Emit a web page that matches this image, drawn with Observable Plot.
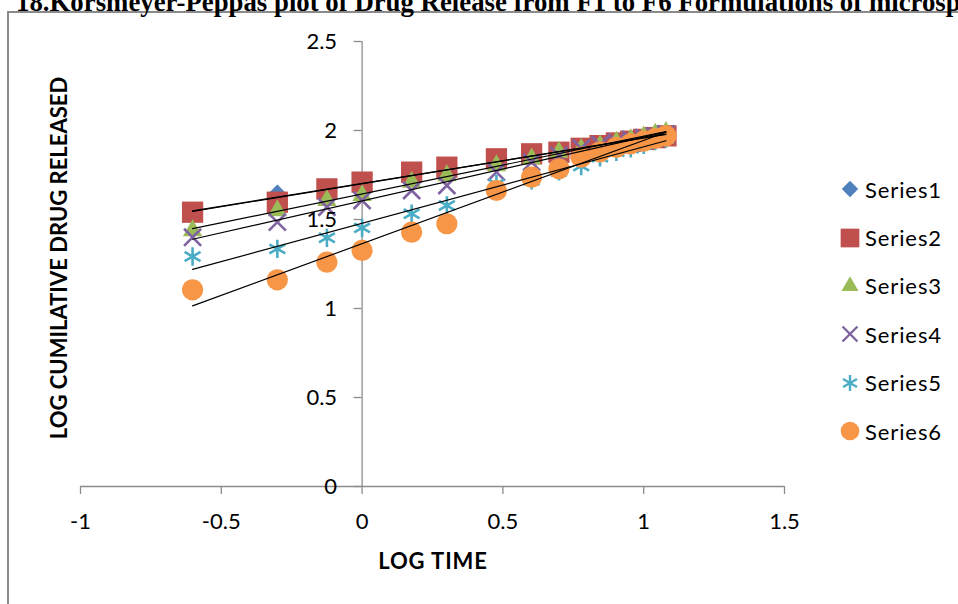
<!DOCTYPE html>
<html><head><meta charset="utf-8">
<script src="https://cdn.jsdelivr.net/npm/d3@7"></script>
<script src="https://cdn.jsdelivr.net/npm/@observablehq/plot@0.6"></script>
<style>
html,body{margin:0;padding:0;background:#fff;overflow:hidden;}
#wrap{position:relative;width:958px;height:604px;overflow:hidden;background:#fff;}
#frame{position:absolute;left:7px;top:11px;width:1000px;height:700px;border-left:2px solid #8a8a8a;border-top:2px solid #8a8a8a;}
#title{position:absolute;left:16px;top:-11px;font:bold 26.8px/1 "Liberation Serif";white-space:nowrap;color:#000;}
#chart{position:absolute;left:0;top:0;}
#xtitle{position:absolute;left:433px;top:560px;transform:translate(-50%,-50%);font:bold 22px Lato;letter-spacing:0.9px;white-space:nowrap;}
#ytitle{position:absolute;left:58px;top:258px;transform:translate(-50%,-50%) rotate(-90deg);font:bold 22px Lato;white-space:nowrap;}
#legend{position:absolute;left:838px;top:165px;font:22px Lato;letter-spacing:0.9px;color:#000;}
.row{height:48.4px;display:flex;align-items:center;}
.row svg{width:24px;height:24px;margin-right:3px;}
</style></head><body>
<div id="wrap">
<div id="frame"></div>
<div id="title">18.Korsmeyer-Peppas plot of Drug Release from F1 to F6 Formulations of microspheres</div>
<div id="chart"></div>
<div id="xtitle">LOG TIME</div>
<div id="ytitle">LOG CUMILATIVE DRUG RELEASED</div>
<div id="legend"></div>
</div>
<script>
const logTime = [-0.602, -0.301, -0.125, 0, 0.176, 0.301, 0.477, 0.602, 0.699, 0.778, 0.845, 0.903, 0.954, 1.0, 1.041, 1.079];
const series1 = [1.53, 1.644, 1.66, 1.70, 1.75, 1.78, 1.83, 1.86, 1.885, 1.905, 1.92, 1.935, 1.945, 1.955, 1.965, 1.975];
const series2 = [1.541, 1.597, 1.672, 1.71, 1.766, 1.794, 1.841, 1.869, 1.878, 1.90, 1.915, 1.93, 1.94, 1.95, 1.96, 1.97];
const series3 = [1.438, 1.55, 1.607, 1.635, 1.71, 1.747, 1.803, 1.841, 1.878, 1.895, 1.915, 1.935, 1.95, 1.965, 1.98, 1.99];
const series4 = [1.40, 1.485, 1.569, 1.607, 1.663, 1.691, 1.766, 1.822, 1.86, 1.90, 1.92, 1.935, 1.95, 1.96, 1.97, 1.98];
const series5 = [1.292, 1.335, 1.397, 1.453, 1.532, 1.579, 1.70, 1.72, 1.77, 1.80, 1.85, 1.88, 1.90, 1.92, 1.94, 1.955];
const series6 = [1.105, 1.161, 1.26, 1.326, 1.429, 1.476, 1.663, 1.738, 1.785, 1.85, 1.88, 1.905, 1.925, 1.94, 1.955, 1.97];
const seriesNames = ["Series1", "Series2", "Series3", "Series4", "Series5", "Series6"];
const seriesColors = ["#4F81BD", "#C0504D", "#9BBB59", "#8064A2", "#4BACC6", "#F79646"];
const seriesSymbols = ["diamond2", "square", "triangle", "times", "asterisk", "circle"];
const seriesRadius = [8.4, 12, 7.2, 7.8, 8.7, 10.6];
const xTicks = [-1, -0.5, 0, 0.5, 1, 1.5];
const yTicks = [0, 0.5, 1, 1.5, 2, 2.5];

const allSeries = [series1, series2, series3, series4, series5, series6];
const strokeOnly = new Set(["times", "asterisk"]);
const rows = [];
allSeries.forEach((vals, i) => vals.forEach((v, j) => rows.push({t: logTime[j], v, s: seriesNames[i], i})));

const dotMarks = seriesNames.map((name, i) => {
  const sym = seriesSymbols[i];
  const data = rows.filter(d => d.i === i);
  return strokeOnly.has(sym)
    ? Plot.dot(data, {x: "t", y: "v", symbol: sym, r: seriesRadius[i], fill: "none", stroke: seriesColors[i], strokeWidth: 2.6})
    : Plot.dot(data, {x: "t", y: "v", symbol: sym, r: seriesRadius[i], fill: seriesColors[i], stroke: "none"});
});
const lineMarks = seriesNames.map((name, i) =>
  Plot.linearRegressionY(rows.filter(d => d.i === i), {x: "t", y: "v", stroke: "#000", strokeWidth: 1.2, ci: 0})
);

const fmt = d => String(d);
const chart = Plot.plot({
  width: 958,
  height: 604,
  marginLeft: 80,
  marginRight: 174,
  marginTop: 41,
  marginBottom: 118,
  x: {domain: [-1, 1.5], axis: null},
  y: {domain: [0, 2.5], axis: null},
  style: {fontFamily: "Lato", background: "transparent", overflow: "visible"},
  marks: [
    Plot.ruleY([0], {x1: -1, x2: 1.5, stroke: "#8c8c8c", strokeWidth: 1.3}),
    Plot.ruleX([0], {y1: 0, y2: 2.5, stroke: "#8c8c8c", strokeWidth: 1.3}),
    Plot.ruleX(xTicks, {x: d => d, y1: 0, y2: 0, insetTop: 0, insetBottom: -8, stroke: "#8c8c8c", strokeWidth: 1.3}),
    Plot.ruleY(yTicks, {y: d => d, x1: 0, x2: 0, insetLeft: -8, insetRight: 0, stroke: "#8c8c8c", strokeWidth: 1.3}),
    ...dotMarks,
    ...lineMarks,
    Plot.text(xTicks, {x: d => d, y: 0, dy: 35, text: fmt, fontSize: 22, fill: "#000"}),
    Plot.text(yTicks, {x: 0, y: d => d, dx: -25, textAnchor: "end", text: fmt, fontSize: 22, fill: "#000"})
  ]
});
document.getElementById("chart").appendChild(chart);

const legend = d3.select("#legend");
seriesNames.forEach((name, i) => {
  const row = legend.append("div").attr("class", "row");
  const svg = row.append("svg").attr("viewBox", "-12 -12 24 24");
  const sym = seriesSymbols[i];
  const symType = {diamond2: d3.symbolDiamond2, square: d3.symbolSquare, triangle: d3.symbolTriangle, times: d3.symbolTimes, asterisk: d3.symbolAsterisk, circle: d3.symbolCircle}[sym];
  const r = seriesRadius[i] * 0.88;
  const p = svg.append("path").attr("d", d3.symbol(symType, Math.PI * r * r)());
  if (strokeOnly.has(sym)) p.attr("fill", "none").attr("stroke", seriesColors[i]).attr("stroke-width", 2.4);
  else p.attr("fill", seriesColors[i]);
  row.append("span").text(name);
});
</script>
</body></html>
